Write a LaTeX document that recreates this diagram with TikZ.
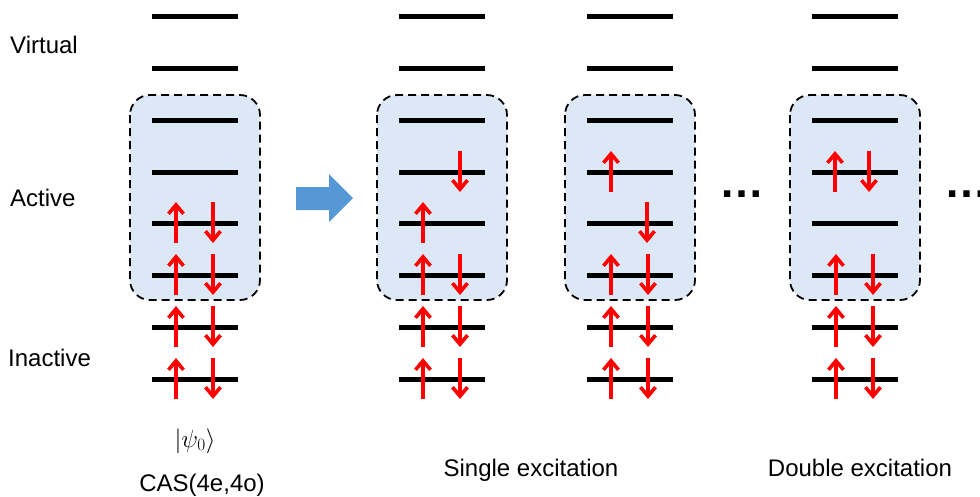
\documentclass[tikz,border=0pt]{standalone}
\usepackage{fontspec}
\setmainfont{Liberation Sans}
\usetikzlibrary{arrows.meta}

\definecolor{spinred}{RGB}{255,0,0}
\definecolor{boxfill}{RGB}{220,232,245}
\definecolor{arrowblue}{RGB}{86,152,214}

\tikzset{
  orbital/.style={line width=5pt},
  spin/.style={spinred, line width=3.6pt,
    -{Straight Barb[length=9pt,width=15pt]}},
  activebox/.style={draw=black, line width=1.8pt, dash pattern=on 8pt off 5pt,
    fill=boxfill, rounded corners=20pt},
  txt/.style={font=\fontsize{24}{28}\selectfont, inner sep=0pt, anchor=base},
  dots/.style={font=\fontsize{45}{50}\selectfont\bfseries, inner sep=0pt, anchor=base},
}

% spin arrows on the orbital at height #2, drawn at x = #1
\newcommand\spinUp[2]{\draw[spin] (#1,#2+20) -- (#1,#2-21);}
\newcommand\spinDown[2]{\draw[spin] (#1,#2-21) -- (#1,#2+20);}
\newcommand\spinPair[2]{\spinUp{#1+24}{#2}\spinDown{#1+61}{#2}}

\begin{document}
\begin{tikzpicture}[x=1pt,y=-1pt]
\useasboundingbox (0,0) rectangle (980,496);

% active space boxes and orbital levels for each configuration
\foreach \c in {152,399,587,812} {
  \draw[activebox] (\c-22,95) rectangle (\c+108,300);
  \foreach \y in {16,68,120,172,223,275,327,379}
    \draw[orbital] (\c,\y) -- (\c+86,\y);
}

% reference determinant
\spinPair{152}{223}
\spinPair{152}{275}
\spinPair{152}{327}
\spinPair{152}{379}

% single excitation, first example
\spinDown{460}{172}
\spinUp{423}{223}
\spinPair{399}{275}
\spinPair{399}{327}
\spinPair{399}{379}

% single excitation, second example
\spinUp{611}{172}
\spinDown{647}{223}
\spinPair{587}{275}
\spinPair{587}{327}
\spinPair{587}{379}

% double excitation
\spinUp{835}{172}
\spinDown{869}{172}
\spinPair{812}{275}
\spinPair{812}{327}
\spinPair{812}{379}

% block arrow
\fill[arrowblue] (296,187) -- (329,187) -- (329,174) -- (353,198)
  -- (329,222) -- (329,210) -- (296,210) -- cycle;

% ellipses
\node[dots] (more1) at (742,197) {…};
\node[dots] (more2) at (967,197) {…};

% labels
\node[txt, anchor=base west] (virtual) at (10,53) {Virtual};
\node[txt, anchor=base west] (active) at (10,206) {Active};
\node[txt, anchor=base west] (inactive) at (8,366) {Inactive};
\node[txt, font=\fontsize{26}{30}\selectfont] (psi) at (195,447) {$|\psi_0\rangle$};
\node[txt] (cas) at (202,491) {CAS(4e,4o)};
\node[txt] (single) at (531,476) {Single excitation};
\node[txt] (double) at (860,476) {Double excitation};
\end{tikzpicture}
\end{document}
